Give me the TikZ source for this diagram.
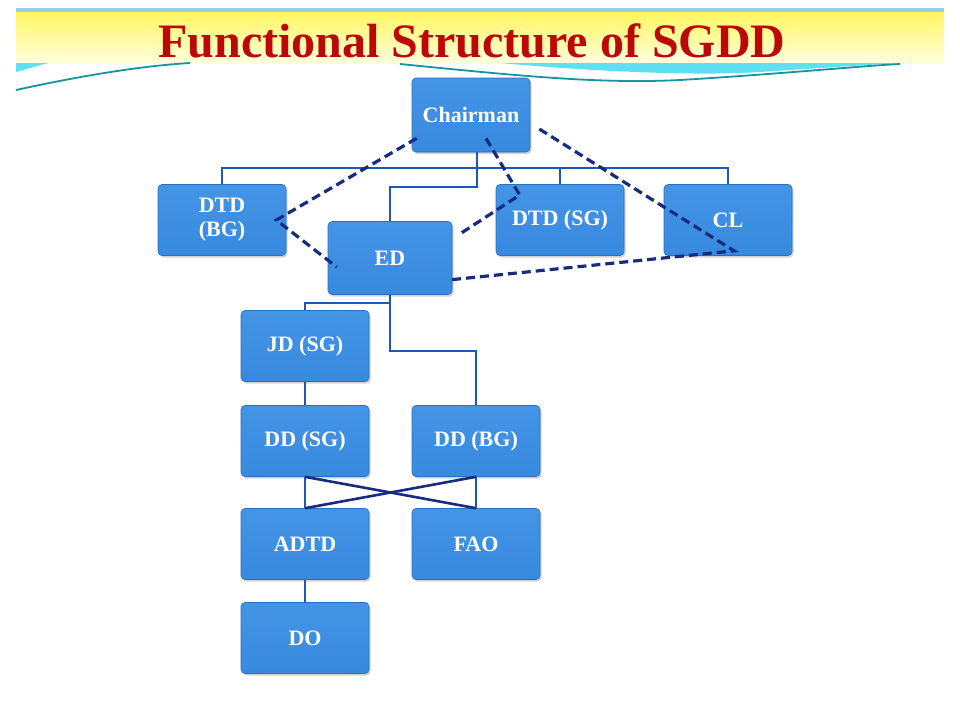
\documentclass[tikz,border=0pt]{standalone}
\usepackage{fontspec}
\setmainfont{Liberation Serif}
\usepackage{tikz}
\usetikzlibrary{calc,shadows}
\definecolor{boxblue}{RGB}{56,138,222}
\definecolor{boxtop}{RGB}{68,148,230}
\definecolor{boxedge}{RGB}{40,112,196}
\definecolor{tieblue}{RGB}{30,88,176}
\definecolor{navy}{RGB}{22,44,128}
\definecolor{titlered}{RGB}{188,8,8}
\definecolor{bannertop}{RGB}{255,246,96}
\definecolor{bannerlow}{RGB}{255,255,222}
\definecolor{swoosh}{RGB}{96,222,242}
\definecolor{teal}{RGB}{20,150,160}
\definecolor{stripe}{RGB}{150,204,232}

\begin{document}
\begin{tikzpicture}[x=1pt,y=-1pt,
	unit/.style={draw=boxedge, line width=0.6pt, top color=boxtop, bottom color=boxblue, rounded corners=4pt, text=white, align=center,
		minimum width=128pt, minimum height=71pt, font=\fontsize{22}{24}\selectfont\bfseries,
		drop shadow={shadow xshift=1.5pt, shadow yshift=-2pt, opacity=0.35}},
	tie/.style={draw=tieblue, line width=1.7pt},
	cross/.style={draw=navy, line width=2.6pt},
	link/.style={draw=navy, line width=3.2pt, dash pattern=on 9pt off 5pt}]
	\useasboundingbox[fill=white] (0,0) rectangle (960,720);
	\fill[stripe] (16,8) rectangle (944,12);
	\fill[top color=bannertop, bottom color=bannerlow] (16,12) rectangle (944,63);
	\fill[swoosh] (16,63) -- (48,63) -- (16,72) -- cycle;
	\draw[teal, line width=1.8pt] (16,90) .. controls (80,76) and (140,66) .. (190,63);
	\fill[swoosh] (500,63) .. controls (600,72) and (700,76) .. (760,72) .. controls (820,68) and (880,64) .. (905,63) -- cycle;
	\draw[teal, line width=1.8pt] (400,64) .. controls (520,76) and (600,84) .. (680,80) .. controls (780,74) and (860,66) .. (900,64);
	\node[text=titlered, font=\fontsize{48}{52}\selectfont\bfseries, anchor=base] (title) at (472,57) {Functional Structure of SGDD};

	\node[unit, minimum width=118pt, minimum height=74pt] (chair) at (471,115) {Chairman};
	\node[unit] (dtdbg) at (222,220) {DTD\\(BG)};
	\node[unit, minimum width=124pt, minimum height=73pt] (ed) at (390,258) {ED};
	\node[unit] (dtdsg) at (560,220) {DTD (SG)};
	\node[unit] (cl) at (728,220) {CL};
	\node[unit] (jdsg) at (305,346) {JD (SG)};
	\node[unit] (ddsg) at (305,441) {DD (SG)};
	\node[unit] (ddbg) at (476,441) {DD (BG)};
	\node[unit] (adtd) at (305,544) {ADTD};
	\node[unit] (fao) at (476,544) {FAO};
	\node[unit] (do) at (305,638) {DO};

	\coordinate (bus) at (0,168);
	\coordinate (edturn) at (0,187);
	\coordinate (jdturn) at (0,303);
	\coordinate (ddturn) at (0,351);
	\draw[tie] (dtdbg.north) |- (bus -| cl.north) -- (cl.north);
	\draw[tie] (dtdsg.north) -- (dtdsg.north |- bus);
	\draw[tie] ($(chair.south)+(6,0)$) coordinate (stem) -- (stem |- edturn) -| (ed.north);
	\draw[tie] (ed.south) |- (jdturn -| jdsg.north) -- (jdsg.north);
	\draw[tie] (ed.south) |- (ddturn -| ddbg.north) -- (ddbg.north);
	\path[tie] (jdsg) edge (ddsg) (ddsg) edge (adtd) (ddbg) edge (fao) (adtd) edge (do);
	\draw[cross] (ddsg.south) -- (fao.north);
	\draw[cross] (ddbg.south) -- (adtd.north);

	\draw[link] ([shift={(5,-14)}]chair.south west) -- ([xshift=-10pt]dtdbg.east) -- ([shift={(9,9)}]ed.west);
	\draw[link] ([shift={(15,-14)}]chair.south) -- ([shift={(24,-25)}]dtdsg.west) -- ([shift={(6,-23)}]ed.east);
	\draw[link] ([shift={(9,14)}]chair.east) -- ([shift={(6,-5)}]cl.south) -- ([shift={(-2,-15)}]ed.south east);
\end{tikzpicture}
\end{document}
